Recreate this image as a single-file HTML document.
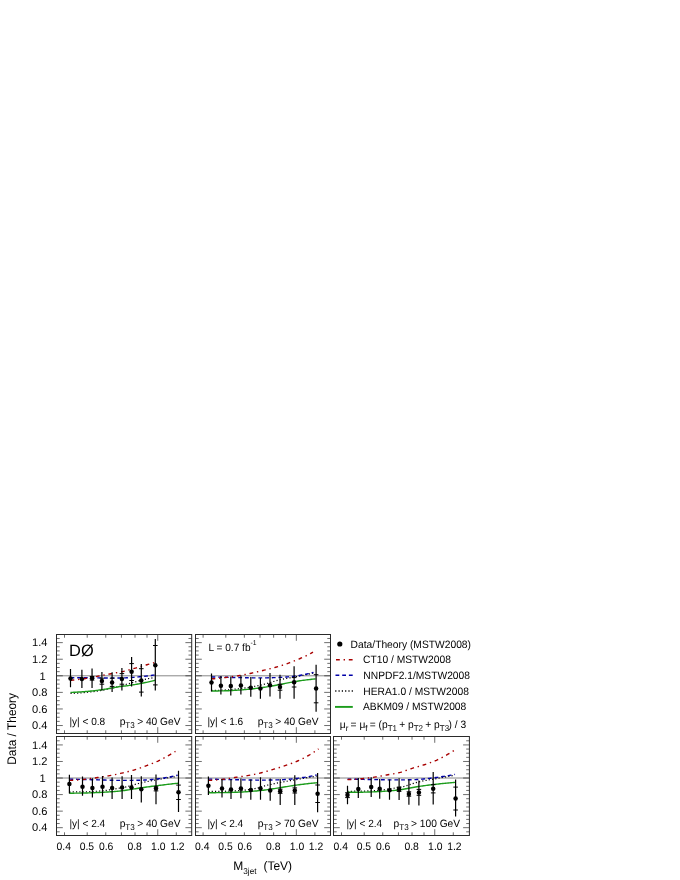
<!DOCTYPE html>
<html><head><meta charset="utf-8"><title>Data / Theory</title>
<style>html,body{margin:0;padding:0;background:#fff;}body{width:680px;height:880px;overflow:hidden;font-family:"Liberation Sans",sans-serif;}svg{display:block;transform:translateZ(0);will-change:transform;}</style></head>
<body>
<svg width="680" height="880" viewBox="0 0 680 880" font-family="Liberation Sans, sans-serif" fill="#000" text-rendering="geometricPrecision">
<rect width="680" height="880" fill="#fff"/>
<g>
<line x1="56.5" y1="675.80" x2="191.7" y2="675.80" stroke="#3c3c3c" stroke-width="0.62"/>
<path d="M56.5 729.68h3.2M191.7 729.68h-3.2M56.5 725.54h6.3M191.7 725.54h-6.3M56.5 721.39h3.2M191.7 721.39h-3.2M56.5 717.25h3.2M191.7 717.25h-3.2M56.5 713.11h3.2M191.7 713.11h-3.2M56.5 708.96h6.3M191.7 708.96h-6.3M56.5 704.81h3.2M191.7 704.81h-3.2M56.5 700.67h3.2M191.7 700.67h-3.2M56.5 696.52h3.2M191.7 696.52h-3.2M56.5 692.38h6.3M191.7 692.38h-6.3M56.5 688.23h3.2M191.7 688.23h-3.2M56.5 684.09h3.2M191.7 684.09h-3.2M56.5 679.94h3.2M191.7 679.94h-3.2M56.5 675.80h6.3M191.7 675.80h-6.3M56.5 671.65h3.2M191.7 671.65h-3.2M56.5 667.51h3.2M191.7 667.51h-3.2M56.5 663.36h3.2M191.7 663.36h-3.2M56.5 659.22h6.3M191.7 659.22h-6.3M56.5 655.07h3.2M191.7 655.07h-3.2M56.5 650.93h3.2M191.7 650.93h-3.2M56.5 646.78h3.2M191.7 646.78h-3.2M56.5 642.64h6.3M191.7 642.64h-6.3M56.5 638.49h3.2M191.7 638.49h-3.2M64.50 733.5v-3.2M64.50 634.5v3.2M87.21 733.5v-3.2M87.21 634.5v3.2M105.76 733.5v-3.2M105.76 634.5v3.2M121.44 733.5v-3.2M121.44 634.5v3.2M135.03 733.5v-3.2M135.03 634.5v3.2M147.02 733.5v-3.2M147.02 634.5v3.2M157.74 733.5v-6.3M157.74 634.5v6.3M176.29 733.5v-3.2" stroke="#141414" stroke-width="0.62" fill="none"/>
<polyline points="70.50,693.40 71.56,693.37 72.63,693.33 73.69,693.28 74.75,693.23 75.82,693.17 76.88,693.11 77.94,693.04 79.01,692.96 80.07,692.89 81.13,692.80 82.20,692.72 83.26,692.63 84.32,692.53 85.39,692.44 86.45,692.34 87.51,692.24 88.58,692.14 89.64,692.04 90.70,691.93 91.77,691.81 92.83,691.68 93.89,691.55 94.96,691.40 96.02,691.25 97.08,691.09 98.15,690.92 99.21,690.75 100.27,690.57 101.34,690.40 102.40,690.21 103.46,690.02 104.53,689.82 105.59,689.61 106.65,689.39 107.72,689.17 108.78,688.93 109.84,688.70 110.91,688.45 111.97,688.21 113.03,687.96 114.09,687.69 115.16,687.42 116.22,687.14 117.28,686.86 118.35,686.57 119.41,686.28 120.47,685.98 121.54,685.68 122.60,685.39 123.66,685.09 124.73,684.80 125.79,684.51 126.85,684.22 127.92,683.93 128.98,683.64 130.04,683.34 131.11,683.04 132.17,682.74 133.23,682.43 134.30,682.13 135.36,681.83 136.42,681.53 137.49,681.24 138.55,680.95 139.61,680.66 140.68,680.39 141.74,680.12 142.80,679.86 143.87,679.61 144.93,679.37 145.99,679.14 147.06,678.92 148.12,678.71 149.18,678.51 150.25,678.31 151.31,678.12 152.37,677.94 153.44,677.77 154.50,677.60" fill="none" stroke="#000" stroke-width="1.25" stroke-dasharray="1.15 2.15"/>
<polyline points="70.50,692.40 71.57,692.37 72.64,692.33 73.71,692.28 74.78,692.24 75.85,692.18 76.92,692.13 77.99,692.07 79.06,692.00 80.13,691.94 81.20,691.87 82.27,691.79 83.34,691.72 84.41,691.64 85.47,691.56 86.54,691.48 87.61,691.39 88.68,691.29 89.75,691.18 90.82,691.07 91.89,690.96 92.96,690.84 94.03,690.71 95.10,690.58 96.17,690.45 97.24,690.32 98.31,690.18 99.38,690.04 100.45,689.90 101.52,689.75 102.59,689.60 103.66,689.44 104.73,689.27 105.80,689.09 106.87,688.91 107.94,688.71 109.01,688.51 110.08,688.31 111.15,688.11 112.22,687.91 113.28,687.71 114.35,687.51 115.42,687.32 116.49,687.14 117.56,686.96 118.63,686.79 119.70,686.64 120.77,686.50 121.84,686.38 122.91,686.26 123.98,686.15 125.05,686.02 126.12,685.88 127.19,685.73 128.26,685.58 129.33,685.42 130.40,685.26 131.47,685.10 132.54,684.93 133.61,684.75 134.68,684.57 135.75,684.39 136.82,684.21 137.89,684.01 138.96,683.82 140.03,683.62 141.09,683.41 142.16,683.21 143.23,682.99 144.30,682.77 145.37,682.55 146.44,682.32 147.51,682.09 148.58,681.85 149.65,681.60 150.72,681.35 151.79,681.10 152.86,680.84 153.93,680.57 155.00,680.30" fill="none" stroke="#1c9c1c" stroke-width="1.4"/>
<polyline points="70.50,677.70 71.56,677.71 72.63,677.72 73.69,677.72 74.75,677.73 75.82,677.74 76.88,677.75 77.94,677.76 79.01,677.76 80.07,677.77 81.13,677.78 82.20,677.79 83.26,677.79 84.32,677.80 85.39,677.81 86.45,677.82 87.51,677.82 88.58,677.83 89.64,677.84 90.70,677.84 91.77,677.85 92.83,677.86 93.89,677.86 94.96,677.87 96.02,677.88 97.08,677.88 98.15,677.89 99.21,677.90 100.27,677.90 101.34,677.91 102.40,677.91 103.46,677.92 104.53,677.93 105.59,677.94 106.65,677.94 107.72,677.95 108.78,677.96 109.84,677.96 110.91,677.97 111.97,677.98 113.03,677.98 114.09,677.99 115.16,677.99 116.22,677.99 117.28,678.00 118.35,678.00 119.41,678.00 120.47,678.00 121.54,677.99 122.60,677.97 123.66,677.94 124.73,677.90 125.79,677.85 126.85,677.79 127.92,677.73 128.98,677.66 130.04,677.59 131.11,677.51 132.17,677.42 133.23,677.34 134.30,677.25 135.36,677.16 136.42,677.06 137.49,676.97 138.55,676.88 139.61,676.78 140.68,676.69 141.74,676.60 142.80,676.50 143.87,676.39 144.93,676.27 145.99,676.15 147.06,676.02 148.12,675.88 149.18,675.75 150.25,675.60 151.31,675.46 152.37,675.31 153.44,675.15 154.50,675.00" fill="none" stroke="#0000a8" stroke-width="1.4" stroke-dasharray="3.8 2.9"/>
<polyline points="70.50,680.30 71.56,680.21 72.63,680.11 73.69,680.00 74.75,679.89 75.82,679.78 76.88,679.66 77.94,679.53 79.01,679.40 80.07,679.27 81.13,679.13 82.20,678.99 83.26,678.85 84.32,678.70 85.39,678.54 86.45,678.38 87.51,678.21 88.58,678.02 89.64,677.83 90.70,677.64 91.77,677.43 92.83,677.22 93.89,677.01 94.96,676.79 96.02,676.58 97.08,676.36 98.15,676.15 99.21,675.94 100.27,675.73 101.34,675.52 102.40,675.33 103.46,675.13 104.53,674.94 105.59,674.74 106.65,674.55 107.72,674.36 108.78,674.17 109.84,673.98 110.91,673.79 111.97,673.59 113.03,673.40 114.09,673.20 115.16,673.00 116.22,672.80 117.28,672.61 118.35,672.41 119.41,672.21 120.47,672.01 121.54,671.79 122.60,671.57 123.66,671.33 124.73,671.07 125.79,670.80 126.85,670.52 127.92,670.23 128.98,669.94 130.04,669.64 131.11,669.34 132.17,669.03 133.23,668.73 134.30,668.43 135.36,668.13 136.42,667.83 137.49,667.52 138.55,667.21 139.61,666.90 140.68,666.59 141.74,666.28 142.80,665.97 143.87,665.65 144.93,665.34 145.99,665.03 147.06,664.73 148.12,664.42 149.18,664.12 150.25,663.81 151.31,663.51 152.37,663.20 153.44,662.90 154.50,662.60" fill="none" stroke="#a80000" stroke-width="1.4" stroke-dasharray="3.8 3.8 1.4 3.8"/>
<path d="M70.5 669.1V687.3M81.9 669.8V688.0M92.05 668.4V688.0M101.9 672.0V690.6M112.1 672.2V692.1M121.9 668.1V690.6M131.6 657.1V686.4M141.3 664.0V696.5M155.3 639.1V690.6" stroke="#000" stroke-width="1.2" fill="none"/>
<path d="M89.75 676.5h4.6M89.75 680.1h4.6M99.60 678.2h4.6M99.60 684.2h4.6M109.80 678.2h4.6M109.80 686.4h4.6M119.60 673.6h4.6M119.60 684.2h4.6M129.30 663.6h4.6M129.30 680.5h4.6M139.00 668.7h4.6M139.00 692.1h4.6M153.00 645.5h4.6M153.00 684.9h4.6" stroke="#000" stroke-width="1.0" fill="none"/>
<circle cx="70.5" cy="678.4" r="2.25"/><circle cx="81.9" cy="679.0" r="2.25"/><circle cx="92.05" cy="678.3" r="2.25"/><circle cx="101.9" cy="681.1" r="2.25"/><circle cx="112.1" cy="682.5" r="2.25"/><circle cx="121.9" cy="679.0" r="2.25"/><circle cx="131.6" cy="671.8" r="2.25"/><circle cx="141.3" cy="680.5" r="2.25"/><circle cx="155.3" cy="665.3" r="2.25"/>
<rect x="56.5" y="634.5" width="135.20" height="99.00" fill="none" stroke="#2a2a2a" stroke-width="1"/>
<text transform="translate(69.40 725.30) scale(1 1.045)" font-size="10.1">|y| &lt; 0.8</text>
<text transform="translate(119.70 725.30) scale(1 1.045)" font-size="10.2">p<tspan font-size="8.1" dy="2.6">T3</tspan><tspan dy="-2.6" dx="-0.5"> &gt; 40 GeV</tspan></text>
</g>
<g>
<line x1="195.5" y1="675.80" x2="330.5" y2="675.80" stroke="#3c3c3c" stroke-width="0.62"/>
<path d="M195.5 729.68h3.2M330.5 729.68h-3.2M195.5 725.54h6.3M330.5 725.54h-6.3M195.5 721.39h3.2M330.5 721.39h-3.2M195.5 717.25h3.2M330.5 717.25h-3.2M195.5 713.11h3.2M330.5 713.11h-3.2M195.5 708.96h6.3M330.5 708.96h-6.3M195.5 704.81h3.2M330.5 704.81h-3.2M195.5 700.67h3.2M330.5 700.67h-3.2M195.5 696.52h3.2M330.5 696.52h-3.2M195.5 692.38h6.3M330.5 692.38h-6.3M195.5 688.23h3.2M330.5 688.23h-3.2M195.5 684.09h3.2M330.5 684.09h-3.2M195.5 679.94h3.2M330.5 679.94h-3.2M195.5 675.80h6.3M330.5 675.80h-6.3M195.5 671.65h3.2M330.5 671.65h-3.2M195.5 667.51h3.2M330.5 667.51h-3.2M195.5 663.36h3.2M330.5 663.36h-3.2M195.5 659.22h6.3M330.5 659.22h-6.3M195.5 655.07h3.2M330.5 655.07h-3.2M195.5 650.93h3.2M330.5 650.93h-3.2M195.5 646.78h3.2M330.5 646.78h-3.2M195.5 642.64h6.3M330.5 642.64h-6.3M195.5 638.49h3.2M330.5 638.49h-3.2M203.10 733.5v-3.2M203.10 634.5v3.2M225.81 733.5v-3.2M225.81 634.5v3.2M244.36 733.5v-3.2M244.36 634.5v3.2M260.04 733.5v-3.2M260.04 634.5v3.2M273.63 733.5v-3.2M273.63 634.5v3.2M285.62 733.5v-3.2M285.62 634.5v3.2M296.34 733.5v-6.3M296.34 634.5v6.3M314.89 733.5v-3.2" stroke="#141414" stroke-width="0.62" fill="none"/>
<polyline points="211.50,690.50 212.79,690.48 214.08,690.46 215.37,690.42 216.66,690.38 217.96,690.33 219.25,690.28 220.54,690.22 221.83,690.16 223.12,690.10 224.41,690.03 225.70,689.96 226.99,689.88 228.28,689.79 229.58,689.69 230.87,689.58 232.16,689.46 233.45,689.33 234.74,689.20 236.03,689.06 237.32,688.92 238.61,688.77 239.91,688.62 241.20,688.46 242.49,688.30 243.78,688.13 245.07,687.95 246.36,687.76 247.65,687.57 248.94,687.36 250.23,687.15 251.53,686.93 252.82,686.70 254.11,686.46 255.40,686.22 256.69,685.97 257.98,685.71 259.27,685.45 260.56,685.18 261.85,684.88 263.15,684.56 264.44,684.22 265.73,683.85 267.02,683.48 268.31,683.09 269.60,682.70 270.89,682.30 272.18,681.90 273.47,681.51 274.77,681.13 276.06,680.75 277.35,680.40 278.64,680.06 279.93,679.75 281.22,679.47 282.51,679.20 283.80,678.95 285.09,678.70 286.39,678.47 287.68,678.24 288.97,678.02 290.26,677.79 291.55,677.56 292.84,677.32 294.13,677.07 295.42,676.82 296.72,676.57 298.01,676.31 299.30,676.05 300.59,675.79 301.88,675.53 303.17,675.27 304.46,675.01 305.75,674.74 307.04,674.47 308.34,674.20 309.63,673.93 310.92,673.65 312.21,673.38 313.50,673.10" fill="none" stroke="#000" stroke-width="1.25" stroke-dasharray="1.15 2.15"/>
<polyline points="211.50,691.00 212.82,691.00 214.14,690.99 215.45,690.98 216.77,690.96 218.09,690.94 219.41,690.92 220.72,690.89 222.04,690.87 223.36,690.84 224.68,690.81 225.99,690.77 227.31,690.73 228.63,690.68 229.95,690.63 231.27,690.56 232.58,690.49 233.90,690.42 235.22,690.34 236.54,690.25 237.85,690.17 239.17,690.08 240.49,689.99 241.81,689.89 243.13,689.78 244.44,689.67 245.76,689.55 247.08,689.42 248.40,689.29 249.71,689.15 251.03,689.00 252.35,688.85 253.67,688.70 254.98,688.54 256.30,688.37 257.62,688.21 258.94,688.04 260.26,687.87 261.57,687.69 262.89,687.50 264.21,687.30 265.53,687.09 266.84,686.87 268.16,686.65 269.48,686.43 270.80,686.19 272.12,685.96 273.43,685.72 274.75,685.47 276.07,685.23 277.39,684.98 278.70,684.74 280.02,684.50 281.34,684.24 282.66,683.98 283.97,683.70 285.29,683.42 286.61,683.14 287.93,682.86 289.25,682.58 290.56,682.32 291.88,682.07 293.20,681.83 294.52,681.62 295.83,681.41 297.15,681.21 298.47,681.00 299.79,680.81 301.11,680.62 302.42,680.43 303.74,680.25 305.06,680.07 306.38,679.90 307.69,679.73 309.01,679.58 310.33,679.43 311.65,679.28 312.96,679.15 314.28,679.02 315.60,678.90" fill="none" stroke="#1c9c1c" stroke-width="1.4"/>
<polyline points="211.50,676.90 212.79,676.94 214.08,676.98 215.37,677.01 216.66,677.05 217.96,677.09 219.25,677.12 220.54,677.16 221.83,677.19 223.12,677.23 224.41,677.26 225.70,677.29 226.99,677.32 228.28,677.36 229.58,677.39 230.87,677.41 232.16,677.44 233.45,677.47 234.74,677.50 236.03,677.52 237.32,677.55 238.61,677.57 239.91,677.60 241.20,677.62 242.49,677.65 243.78,677.67 245.07,677.70 246.36,677.72 247.65,677.75 248.94,677.77 250.23,677.80 251.53,677.82 252.82,677.84 254.11,677.85 255.40,677.87 256.69,677.88 257.98,677.89 259.27,677.90 260.56,677.90 261.85,677.90 263.15,677.89 264.44,677.87 265.73,677.85 267.02,677.83 268.31,677.80 269.60,677.77 270.89,677.73 272.18,677.69 273.47,677.65 274.77,677.60 276.06,677.56 277.35,677.51 278.64,677.46 279.93,677.40 281.22,677.34 282.51,677.27 283.80,677.19 285.09,677.09 286.39,676.98 287.68,676.87 288.97,676.74 290.26,676.61 291.55,676.47 292.84,676.33 294.13,676.18 295.42,676.03 296.72,675.85 298.01,675.65 299.30,675.44 300.59,675.22 301.88,674.99 303.17,674.75 304.46,674.50 305.75,674.25 307.04,673.98 308.34,673.69 309.63,673.39 310.92,673.07 312.21,672.74 313.50,672.40" fill="none" stroke="#0000a8" stroke-width="1.4" stroke-dasharray="3.8 2.9"/>
<polyline points="211.50,678.90 212.78,678.80 214.07,678.70 215.35,678.59 216.64,678.47 217.92,678.35 219.21,678.22 220.49,678.09 221.78,677.96 223.06,677.82 224.35,677.67 225.63,677.53 226.92,677.37 228.20,677.21 229.49,677.04 230.77,676.87 232.06,676.69 233.34,676.50 234.63,676.31 235.91,676.11 237.20,675.91 238.48,675.70 239.77,675.49 241.05,675.27 242.34,675.04 243.62,674.80 244.91,674.55 246.19,674.29 247.47,674.03 248.76,673.76 250.04,673.49 251.33,673.21 252.61,672.93 253.90,672.64 255.18,672.34 256.47,672.04 257.75,671.73 259.04,671.42 260.32,671.11 261.61,670.80 262.89,670.48 264.18,670.17 265.46,669.85 266.75,669.54 268.03,669.22 269.32,668.91 270.60,668.58 271.89,668.26 273.17,667.92 274.46,667.58 275.74,667.23 277.03,666.87 278.31,666.50 279.59,666.12 280.88,665.73 282.16,665.32 283.45,664.89 284.73,664.45 286.02,664.00 287.30,663.54 288.59,663.07 289.87,662.59 291.16,662.10 292.44,661.60 293.73,661.10 295.01,660.60 296.30,660.08 297.58,659.56 298.87,659.03 300.15,658.49 301.44,657.93 302.72,657.35 304.01,656.77 305.29,656.16 306.58,655.53 307.86,654.89 309.15,654.22 310.43,653.53 311.72,652.82 313.00,652.10" fill="none" stroke="#a80000" stroke-width="1.4" stroke-dasharray="3.8 3.8 1.4 3.8"/>
<path d="M211.5 673.5V691.5M220.9 676.1V694.6M230.8 676.6V695.4M240.9 675.4V694.6M250.8 677.1V696.7M260.4 677.9V698.8M270.0 673.1V696.6M280.0 674.8V698.7M294.1 666.3V698.7M316.1 664.7V711.8" stroke="#000" stroke-width="1.2" fill="none"/>
<path d="M277.70 684.3h4.6M277.70 690.2h4.6M291.80 677.6h4.6M291.80 687.0h4.6M313.80 674.7h4.6M313.80 702.8h4.6" stroke="#000" stroke-width="1.0" fill="none"/>
<circle cx="211.5" cy="682.5" r="2.25"/><circle cx="220.9" cy="685.7" r="2.25"/><circle cx="230.8" cy="685.9" r="2.25"/><circle cx="240.9" cy="685.5" r="2.25"/><circle cx="250.8" cy="687.7" r="2.25"/><circle cx="260.4" cy="688.5" r="2.25"/><circle cx="270.0" cy="685.3" r="2.25"/><circle cx="280.0" cy="687.1" r="2.25"/><circle cx="294.1" cy="682.2" r="2.25"/><circle cx="316.1" cy="688.4" r="2.25"/>
<rect x="195.5" y="634.5" width="135.00" height="99.00" fill="none" stroke="#2a2a2a" stroke-width="1"/>
<text transform="translate(207.40 725.30) scale(1 1.045)" font-size="10.1">|y| &lt; 1.6</text>
<text transform="translate(257.70 725.30) scale(1 1.045)" font-size="10.2">p<tspan font-size="8.1" dy="2.6">T3</tspan><tspan dy="-2.6" dx="-0.5"> &gt; 40 GeV</tspan></text>
</g>
<g>
<line x1="56.5" y1="778.03" x2="191.7" y2="778.03" stroke="#3c3c3c" stroke-width="0.62"/>
<path d="M56.5 831.82h3.2M191.7 831.82h-3.2M56.5 827.68h6.3M191.7 827.68h-6.3M56.5 823.54h3.2M191.7 823.54h-3.2M56.5 819.40h3.2M191.7 819.40h-3.2M56.5 815.27h3.2M191.7 815.27h-3.2M56.5 811.13h6.3M191.7 811.13h-6.3M56.5 806.99h3.2M191.7 806.99h-3.2M56.5 802.86h3.2M191.7 802.86h-3.2M56.5 798.72h3.2M191.7 798.72h-3.2M56.5 794.58h6.3M191.7 794.58h-6.3M56.5 790.44h3.2M191.7 790.44h-3.2M56.5 786.30h3.2M191.7 786.30h-3.2M56.5 782.17h3.2M191.7 782.17h-3.2M56.5 778.03h6.3M191.7 778.03h-6.3M56.5 773.89h3.2M191.7 773.89h-3.2M56.5 769.75h3.2M191.7 769.75h-3.2M56.5 765.62h3.2M191.7 765.62h-3.2M56.5 761.48h6.3M191.7 761.48h-6.3M56.5 757.34h3.2M191.7 757.34h-3.2M56.5 753.20h3.2M191.7 753.20h-3.2M56.5 749.07h3.2M191.7 749.07h-3.2M56.5 744.93h6.3M191.7 744.93h-6.3M56.5 740.79h3.2M191.7 740.79h-3.2M64.50 835.5v-3.2M64.50 736.5v3.2M87.21 835.5v-3.2M87.21 736.5v3.2M105.76 835.5v-3.2M105.76 736.5v3.2M121.44 835.5v-3.2M121.44 736.5v3.2M135.03 835.5v-3.2M135.03 736.5v3.2M147.02 835.5v-3.2M147.02 736.5v3.2M157.74 835.5v-6.3M157.74 736.5v6.3M176.29 835.5v-3.2" stroke="#141414" stroke-width="0.62" fill="none"/>
<polyline points="69.40,792.00 70.76,792.00 72.11,791.99 73.47,791.98 74.83,791.97 76.18,791.95 77.54,791.94 78.90,791.91 80.26,791.89 81.61,791.87 82.97,791.84 84.33,791.81 85.68,791.78 87.04,791.75 88.40,791.70 89.75,791.64 91.11,791.58 92.47,791.51 93.83,791.43 95.18,791.34 96.54,791.25 97.90,791.15 99.25,791.05 100.61,790.94 101.97,790.83 103.32,790.70 104.68,790.55 106.04,790.38 107.39,790.19 108.75,789.98 110.11,789.75 111.47,789.52 112.82,789.28 114.18,789.03 115.54,788.79 116.89,788.55 118.25,788.32 119.61,788.10 120.96,787.86 122.32,787.62 123.68,787.37 125.04,787.09 126.39,786.79 127.75,786.46 129.11,786.11 130.46,785.74 131.82,785.36 133.18,784.98 134.53,784.59 135.89,784.21 137.25,783.84 138.61,783.48 139.96,783.15 141.32,782.84 142.68,782.54 144.03,782.24 145.39,781.96 146.75,781.68 148.10,781.40 149.46,781.13 150.82,780.87 152.17,780.61 153.53,780.35 154.89,780.10 156.25,779.86 157.60,779.61 158.96,779.37 160.32,779.13 161.67,778.89 163.03,778.65 164.39,778.42 165.74,778.19 167.10,777.97 168.46,777.75 169.82,777.53 171.17,777.32 172.53,777.11 173.89,776.90 175.24,776.70 176.60,776.50" fill="none" stroke="#000" stroke-width="1.25" stroke-dasharray="1.15 2.15"/>
<polyline points="69.40,793.20 70.78,793.20 72.15,793.19 73.53,793.18 74.91,793.17 76.29,793.15 77.66,793.13 79.04,793.11 80.42,793.09 81.79,793.06 83.17,793.04 84.55,793.01 85.93,792.98 87.30,792.95 88.68,792.91 90.06,792.86 91.44,792.81 92.81,792.76 94.19,792.70 95.57,792.64 96.94,792.57 98.32,792.50 99.70,792.43 101.08,792.36 102.45,792.29 103.83,792.22 105.21,792.14 106.58,792.06 107.96,791.97 109.34,791.88 110.72,791.78 112.09,791.68 113.47,791.58 114.85,791.46 116.23,791.35 117.60,791.23 118.98,791.10 120.36,790.96 121.73,790.81 123.11,790.65 124.49,790.46 125.87,790.27 127.24,790.06 128.62,789.84 130.00,789.62 131.37,789.39 132.75,789.16 134.13,788.92 135.51,788.69 136.88,788.47 138.26,788.25 139.64,788.04 141.02,787.84 142.39,787.64 143.77,787.45 145.15,787.26 146.52,787.06 147.90,786.87 149.28,786.69 150.66,786.50 152.03,786.31 153.41,786.13 154.79,785.95 156.16,785.78 157.54,785.61 158.92,785.43 160.30,785.26 161.67,785.09 163.05,784.93 164.43,784.76 165.81,784.60 167.18,784.43 168.56,784.27 169.94,784.11 171.31,783.96 172.69,783.80 174.07,783.65 175.45,783.50 176.82,783.35 178.20,783.20" fill="none" stroke="#1c9c1c" stroke-width="1.4"/>
<polyline points="69.40,779.10 70.77,779.14 72.14,779.18 73.51,779.21 74.88,779.25 76.25,779.29 77.62,779.33 78.99,779.36 80.36,779.40 81.73,779.44 83.10,779.47 84.47,779.51 85.84,779.54 87.21,779.58 88.57,779.62 89.94,779.65 91.31,779.68 92.68,779.72 94.05,779.75 95.42,779.79 96.79,779.82 98.16,779.86 99.53,779.89 100.90,779.92 102.27,779.96 103.64,780.00 105.01,780.04 106.38,780.08 107.75,780.12 109.12,780.16 110.49,780.20 111.86,780.24 113.23,780.28 114.60,780.31 115.97,780.34 117.34,780.36 118.71,780.38 120.08,780.39 121.45,780.40 122.82,780.40 124.18,780.40 125.55,780.39 126.92,780.38 128.29,780.37 129.66,780.36 131.03,780.34 132.40,780.33 133.77,780.31 135.14,780.29 136.51,780.26 137.88,780.24 139.25,780.21 140.62,780.19 141.99,780.14 143.36,780.09 144.73,780.02 146.10,779.94 147.47,779.85 148.84,779.76 150.21,779.66 151.58,779.55 152.95,779.43 154.32,779.29 155.69,779.14 157.06,778.97 158.43,778.79 159.79,778.60 161.16,778.40 162.53,778.19 163.90,777.97 165.27,777.76 166.64,777.53 168.01,777.28 169.38,777.02 170.75,776.75 172.12,776.46 173.49,776.16 174.86,775.85 176.23,775.53 177.60,775.20" fill="none" stroke="#0000a8" stroke-width="1.4" stroke-dasharray="3.8 2.9"/>
<polyline points="69.40,780.40 70.74,780.35 72.09,780.29 73.43,780.22 74.77,780.14 76.12,780.05 77.46,779.95 78.80,779.85 80.14,779.74 81.49,779.62 82.83,779.50 84.17,779.38 85.52,779.25 86.86,779.10 88.20,778.94 89.55,778.75 90.89,778.56 92.23,778.36 93.57,778.15 94.92,777.95 96.26,777.74 97.60,777.54 98.95,777.34 100.29,777.15 101.63,776.95 102.98,776.75 104.32,776.54 105.66,776.33 107.01,776.11 108.35,775.89 109.69,775.66 111.03,775.41 112.38,775.15 113.72,774.89 115.06,774.61 116.41,774.33 117.75,774.03 119.09,773.74 120.44,773.43 121.78,773.13 123.12,772.82 124.46,772.51 125.81,772.19 127.15,771.86 128.49,771.53 129.84,771.18 131.18,770.83 132.52,770.45 133.87,770.06 135.21,769.65 136.55,769.21 137.89,768.75 139.24,768.28 140.58,767.80 141.92,767.30 143.27,766.81 144.61,766.31 145.95,765.81 147.30,765.31 148.64,764.81 149.98,764.31 151.33,763.80 152.67,763.28 154.01,762.75 155.35,762.19 156.70,761.62 158.04,761.03 159.38,760.40 160.73,759.74 162.07,759.05 163.41,758.33 164.76,757.60 166.10,756.86 167.44,756.10 168.78,755.35 170.13,754.59 171.47,753.81 172.81,753.02 174.16,752.22 175.50,751.40" fill="none" stroke="#a80000" stroke-width="1.4" stroke-dasharray="3.8 3.8 1.4 3.8"/>
<path d="M69.4 774.8V793.5M82.5 776.5V795.8M92.4 778.3V797.4M102.5 776.0V796.6M112.1 777.6V798.9M122.1 776.2V798.9M131.5 775.0V798.9M141.3 776.2V802.6M156.0 774.5V804.3M178.5 770.7V811.9" stroke="#000" stroke-width="1.2" fill="none"/>
<path d="M153.70 786.8h4.6M153.70 790.9h4.6M176.20 785.1h4.6M176.20 799.5h4.6" stroke="#000" stroke-width="1.0" fill="none"/>
<circle cx="69.4" cy="784.1" r="2.25"/><circle cx="82.5" cy="786.8" r="2.25"/><circle cx="92.4" cy="788.1" r="2.25"/><circle cx="102.5" cy="786.8" r="2.25"/><circle cx="112.1" cy="788.1" r="2.25"/><circle cx="122.1" cy="787.6" r="2.25"/><circle cx="131.5" cy="787.6" r="2.25"/><circle cx="141.3" cy="789.2" r="2.25"/><circle cx="156.0" cy="788.4" r="2.25"/><circle cx="178.5" cy="792.2" r="2.25"/>
<rect x="56.5" y="736.5" width="135.20" height="99.00" fill="none" stroke="#2a2a2a" stroke-width="1"/>
<text transform="translate(69.40 827.30) scale(1 1.045)" font-size="10.1">|y| &lt; 2.4</text>
<text transform="translate(119.70 827.30) scale(1 1.045)" font-size="10.2">p<tspan font-size="8.1" dy="2.6">T3</tspan><tspan dy="-2.6" dx="-0.5"> &gt; 40 GeV</tspan></text>
</g>
<g>
<line x1="195.5" y1="778.03" x2="330.5" y2="778.03" stroke="#3c3c3c" stroke-width="0.62"/>
<path d="M195.5 831.82h3.2M330.5 831.82h-3.2M195.5 827.68h6.3M330.5 827.68h-6.3M195.5 823.54h3.2M330.5 823.54h-3.2M195.5 819.40h3.2M330.5 819.40h-3.2M195.5 815.27h3.2M330.5 815.27h-3.2M195.5 811.13h6.3M330.5 811.13h-6.3M195.5 806.99h3.2M330.5 806.99h-3.2M195.5 802.86h3.2M330.5 802.86h-3.2M195.5 798.72h3.2M330.5 798.72h-3.2M195.5 794.58h6.3M330.5 794.58h-6.3M195.5 790.44h3.2M330.5 790.44h-3.2M195.5 786.30h3.2M330.5 786.30h-3.2M195.5 782.17h3.2M330.5 782.17h-3.2M195.5 778.03h6.3M330.5 778.03h-6.3M195.5 773.89h3.2M330.5 773.89h-3.2M195.5 769.75h3.2M330.5 769.75h-3.2M195.5 765.62h3.2M330.5 765.62h-3.2M195.5 761.48h6.3M330.5 761.48h-6.3M195.5 757.34h3.2M330.5 757.34h-3.2M195.5 753.20h3.2M330.5 753.20h-3.2M195.5 749.07h3.2M330.5 749.07h-3.2M195.5 744.93h6.3M330.5 744.93h-6.3M195.5 740.79h3.2M330.5 740.79h-3.2M203.10 835.5v-3.2M203.10 736.5v3.2M225.81 835.5v-3.2M225.81 736.5v3.2M244.36 835.5v-3.2M244.36 736.5v3.2M260.04 835.5v-3.2M260.04 736.5v3.2M273.63 835.5v-3.2M273.63 736.5v3.2M285.62 835.5v-3.2M285.62 736.5v3.2M296.34 835.5v-6.3M296.34 736.5v6.3M314.89 835.5v-3.2" stroke="#141414" stroke-width="0.62" fill="none"/>
<polyline points="208.40,791.50 209.77,791.50 211.14,791.49 212.51,791.48 213.88,791.47 215.25,791.45 216.62,791.43 217.99,791.41 219.36,791.39 220.73,791.36 222.10,791.34 223.47,791.31 224.84,791.28 226.21,791.24 227.57,791.20 228.94,791.15 230.31,791.09 231.68,791.02 233.05,790.95 234.42,790.87 235.79,790.79 237.16,790.70 238.53,790.60 239.90,790.51 241.27,790.40 242.64,790.29 244.01,790.16 245.38,790.01 246.75,789.85 248.12,789.68 249.49,789.48 250.86,789.28 252.23,789.05 253.60,788.82 254.97,788.56 256.34,788.29 257.71,787.98 259.08,787.57 260.45,787.11 261.82,786.65 263.18,786.25 264.55,785.90 265.92,785.56 267.29,785.23 268.66,784.91 270.03,784.60 271.40,784.29 272.77,784.00 274.14,783.71 275.51,783.43 276.88,783.15 278.25,782.87 279.62,782.60 280.99,782.32 282.36,782.05 283.73,781.79 285.10,781.53 286.47,781.28 287.84,781.03 289.21,780.79 290.58,780.55 291.95,780.30 293.32,780.07 294.69,779.83 296.06,779.59 297.43,779.35 298.79,779.12 300.16,778.88 301.53,778.65 302.90,778.42 304.27,778.19 305.64,777.96 307.01,777.74 308.38,777.51 309.75,777.29 311.12,777.07 312.49,776.85 313.86,776.63 315.23,776.41 316.60,776.20" fill="none" stroke="#000" stroke-width="1.25" stroke-dasharray="1.15 2.15"/>
<polyline points="208.40,792.70 209.78,792.70 211.15,792.70 212.53,792.69 213.90,792.68 215.28,792.68 216.66,792.67 218.03,792.66 219.41,792.65 220.78,792.63 222.16,792.62 223.54,792.60 224.91,792.59 226.29,792.57 227.66,792.54 229.04,792.50 230.42,792.46 231.79,792.41 233.17,792.36 234.54,792.30 235.92,792.25 237.29,792.19 238.67,792.12 240.05,792.06 241.42,791.99 242.80,791.93 244.17,791.85 245.55,791.77 246.93,791.68 248.30,791.59 249.68,791.49 251.05,791.39 252.43,791.28 253.81,791.17 255.18,791.05 256.56,790.93 257.93,790.80 259.31,790.67 260.69,790.53 262.06,790.38 263.44,790.22 264.81,790.04 266.19,789.85 267.57,789.65 268.94,789.45 270.32,789.24 271.69,789.02 273.07,788.80 274.45,788.58 275.82,788.36 277.20,788.13 278.57,787.92 279.95,787.70 281.33,787.49 282.70,787.27 284.08,787.04 285.45,786.81 286.83,786.58 288.21,786.35 289.58,786.13 290.96,785.90 292.33,785.69 293.71,785.48 295.08,785.29 296.46,785.10 297.84,784.92 299.21,784.73 300.59,784.56 301.96,784.38 303.34,784.21 304.72,784.04 306.09,783.87 307.47,783.71 308.84,783.55 310.22,783.40 311.60,783.25 312.97,783.10 314.35,782.96 315.72,782.83 317.10,782.70" fill="none" stroke="#1c9c1c" stroke-width="1.4"/>
<polyline points="208.40,779.10 209.77,779.14 211.14,779.17 212.51,779.21 213.88,779.24 215.25,779.28 216.62,779.31 217.99,779.34 219.36,779.38 220.73,779.41 222.10,779.44 223.47,779.47 224.84,779.50 226.21,779.53 227.57,779.56 228.94,779.59 230.31,779.62 231.68,779.65 233.05,779.67 234.42,779.70 235.79,779.72 237.16,779.75 238.53,779.77 239.90,779.80 241.27,779.82 242.64,779.85 244.01,779.87 245.38,779.90 246.75,779.93 248.12,779.95 249.49,779.98 250.86,780.00 252.23,780.02 253.60,780.04 254.97,780.06 256.34,780.08 257.71,780.09 259.08,780.10 260.45,780.10 261.82,780.10 263.18,780.09 264.55,780.09 265.92,780.08 267.29,780.06 268.66,780.04 270.03,780.02 271.40,780.00 272.77,779.97 274.14,779.94 275.51,779.91 276.88,779.88 278.25,779.85 279.62,779.81 280.99,779.77 282.36,779.71 283.73,779.64 285.10,779.56 286.47,779.46 287.84,779.36 289.21,779.25 290.58,779.14 291.95,779.01 293.32,778.87 294.69,778.72 296.06,778.54 297.43,778.36 298.79,778.16 300.16,777.96 301.53,777.75 302.90,777.53 304.27,777.32 305.64,777.10 307.01,776.87 308.38,776.63 309.75,776.38 311.12,776.12 312.49,775.85 313.86,775.57 315.23,775.29 316.60,775.00" fill="none" stroke="#0000a8" stroke-width="1.4" stroke-dasharray="3.8 2.9"/>
<polyline points="208.40,780.40 209.79,780.35 211.19,780.28 212.58,780.20 213.97,780.11 215.37,780.01 216.76,779.89 218.16,779.77 219.55,779.65 220.94,779.51 222.34,779.37 223.73,779.23 225.12,779.07 226.52,778.89 227.91,778.68 229.31,778.46 230.70,778.22 232.09,777.98 233.49,777.74 234.88,777.51 236.27,777.29 237.67,777.08 239.06,776.87 240.45,776.67 241.85,776.47 243.24,776.27 244.64,776.07 246.03,775.85 247.42,775.64 248.82,775.41 250.21,775.16 251.60,774.91 253.00,774.64 254.39,774.36 255.78,774.07 257.18,773.76 258.57,773.45 259.97,773.12 261.36,772.79 262.75,772.43 264.15,772.05 265.54,771.65 266.93,771.24 268.33,770.83 269.72,770.41 271.12,769.98 272.51,769.57 273.90,769.15 275.30,768.74 276.69,768.32 278.08,767.90 279.48,767.48 280.87,767.04 282.26,766.60 283.66,766.15 285.05,765.68 286.45,765.21 287.84,764.73 289.23,764.24 290.63,763.74 292.02,763.23 293.41,762.70 294.81,762.15 296.20,761.58 297.59,760.99 298.99,760.36 300.38,759.71 301.78,759.04 303.17,758.34 304.56,757.61 305.96,756.86 307.35,756.09 308.74,755.30 310.14,754.48 311.53,753.62 312.93,752.74 314.32,751.82 315.71,750.87 317.11,749.90 318.50,748.90" fill="none" stroke="#a80000" stroke-width="1.4" stroke-dasharray="3.8 3.8 1.4 3.8"/>
<path d="M208.4 776.5V795.1M222.0 778.9V797.6M231.0 779.6V798.9M240.9 778.6V798.2M250.8 779.6V799.7M260.5 777.3V799.7M270.2 778.6V800.7M280.2 778.9V804.9M294.8 775.2V805.1M317.6 773.1V812.3" stroke="#000" stroke-width="1.2" fill="none"/>
<path d="M277.90 789.2h4.6M277.90 793.3h4.6M292.50 787.9h4.6M292.50 793.0h4.6M315.30 785.0h4.6M315.30 802.5h4.6" stroke="#000" stroke-width="1.0" fill="none"/>
<circle cx="208.4" cy="785.8" r="2.25"/><circle cx="222.0" cy="788.4" r="2.25"/><circle cx="231.0" cy="789.6" r="2.25"/><circle cx="240.9" cy="788.6" r="2.25"/><circle cx="250.8" cy="790.1" r="2.25"/><circle cx="260.5" cy="788.6" r="2.25"/><circle cx="270.2" cy="790.4" r="2.25"/><circle cx="280.2" cy="791.2" r="2.25"/><circle cx="294.8" cy="790.4" r="2.25"/><circle cx="317.6" cy="793.7" r="2.25"/>
<rect x="195.5" y="736.5" width="135.00" height="99.00" fill="none" stroke="#2a2a2a" stroke-width="1"/>
<text transform="translate(207.40 827.30) scale(1 1.045)" font-size="10.1">|y| &lt; 2.4</text>
<text transform="translate(257.70 827.30) scale(1 1.045)" font-size="10.2">p<tspan font-size="8.1" dy="2.6">T3</tspan><tspan dy="-2.6" dx="-0.5"> &gt; 70 GeV</tspan></text>
</g>
<g>
<line x1="333.5" y1="778.03" x2="469.4" y2="778.03" stroke="#3c3c3c" stroke-width="0.62"/>
<path d="M333.5 831.82h3.2M469.4 831.82h-3.2M333.5 827.68h6.3M469.4 827.68h-6.3M333.5 823.54h3.2M469.4 823.54h-3.2M333.5 819.40h3.2M469.4 819.40h-3.2M333.5 815.27h3.2M469.4 815.27h-3.2M333.5 811.13h6.3M469.4 811.13h-6.3M333.5 806.99h3.2M469.4 806.99h-3.2M333.5 802.86h3.2M469.4 802.86h-3.2M333.5 798.72h3.2M469.4 798.72h-3.2M333.5 794.58h6.3M469.4 794.58h-6.3M333.5 790.44h3.2M469.4 790.44h-3.2M333.5 786.30h3.2M469.4 786.30h-3.2M333.5 782.17h3.2M469.4 782.17h-3.2M333.5 778.03h6.3M469.4 778.03h-6.3M333.5 773.89h3.2M469.4 773.89h-3.2M333.5 769.75h3.2M469.4 769.75h-3.2M333.5 765.62h3.2M469.4 765.62h-3.2M333.5 761.48h6.3M469.4 761.48h-6.3M333.5 757.34h3.2M469.4 757.34h-3.2M333.5 753.20h3.2M469.4 753.20h-3.2M333.5 749.07h3.2M469.4 749.07h-3.2M333.5 744.93h6.3M469.4 744.93h-6.3M333.5 740.79h3.2M469.4 740.79h-3.2M341.50 835.5v-3.2M341.50 736.5v3.2M364.21 835.5v-3.2M364.21 736.5v3.2M382.76 835.5v-3.2M382.76 736.5v3.2M398.44 835.5v-3.2M398.44 736.5v3.2M412.03 835.5v-3.2M412.03 736.5v3.2M424.02 835.5v-3.2M424.02 736.5v3.2M434.74 835.5v-6.3M434.74 736.5v6.3M453.29 835.5v-3.2" stroke="#141414" stroke-width="0.62" fill="none"/>
<polyline points="347.50,791.30 348.85,791.29 350.19,791.28 351.54,791.27 352.88,791.26 354.23,791.24 355.57,791.22 356.92,791.20 358.26,791.17 359.61,791.15 360.96,791.12 362.30,791.09 363.65,791.07 364.99,791.03 366.34,791.00 367.68,790.96 369.03,790.92 370.37,790.87 371.72,790.82 373.07,790.76 374.41,790.70 375.76,790.63 377.10,790.55 378.45,790.44 379.79,790.30 381.14,790.14 382.48,789.96 383.83,789.76 385.18,789.55 386.52,789.33 387.87,789.12 389.21,788.90 390.56,788.69 391.90,788.48 393.25,788.29 394.59,788.10 395.94,787.91 397.29,787.71 398.63,787.50 399.98,787.28 401.32,787.03 402.67,786.76 404.01,786.43 405.36,786.06 406.71,785.65 408.05,785.21 409.40,784.76 410.74,784.29 412.09,783.83 413.43,783.37 414.78,782.93 416.12,782.53 417.47,782.15 418.82,781.83 420.16,781.53 421.51,781.24 422.85,780.97 424.20,780.71 425.54,780.46 426.89,780.22 428.23,779.98 429.58,779.75 430.93,779.52 432.27,779.29 433.62,779.06 434.96,778.82 436.31,778.58 437.65,778.34 439.00,778.10 440.34,777.85 441.69,777.61 443.04,777.37 444.38,777.14 445.73,776.90 447.07,776.66 448.42,776.43 449.76,776.20 451.11,775.96 452.45,775.73 453.80,775.50" fill="none" stroke="#000" stroke-width="1.25" stroke-dasharray="1.15 2.15"/>
<polyline points="347.50,792.30 348.86,792.30 350.22,792.30 351.58,792.29 352.94,792.28 354.30,792.27 355.66,792.26 357.03,792.25 358.39,792.24 359.75,792.23 361.11,792.21 362.47,792.19 363.83,792.17 365.19,792.14 366.55,792.10 367.91,792.06 369.27,792.01 370.63,791.95 371.99,791.89 373.35,791.83 374.72,791.77 376.08,791.71 377.44,791.65 378.80,791.58 380.16,791.51 381.52,791.43 382.88,791.35 384.24,791.26 385.60,791.17 386.96,791.08 388.32,790.97 389.68,790.87 391.04,790.76 392.41,790.64 393.77,790.52 395.13,790.39 396.49,790.24 397.85,790.07 399.21,789.89 400.57,789.68 401.93,789.46 403.29,789.23 404.65,788.98 406.01,788.73 407.37,788.47 408.73,788.22 410.09,787.96 411.46,787.70 412.82,787.45 414.18,787.20 415.54,786.97 416.90,786.74 418.26,786.54 419.62,786.34 420.98,786.14 422.34,785.95 423.70,785.77 425.06,785.58 426.42,785.40 427.78,785.23 429.15,785.06 430.51,784.89 431.87,784.72 433.23,784.57 434.59,784.41 435.95,784.26 437.31,784.11 438.67,783.96 440.03,783.81 441.39,783.67 442.75,783.53 444.11,783.39 445.47,783.26 446.84,783.12 448.20,782.99 449.56,782.87 450.92,782.75 452.28,782.63 453.64,782.51 455.00,782.40" fill="none" stroke="#1c9c1c" stroke-width="1.4"/>
<polyline points="347.50,779.10 348.86,779.13 350.22,779.15 351.58,779.18 352.94,779.21 354.30,779.24 355.66,779.26 357.03,779.29 358.39,779.31 359.75,779.34 361.11,779.36 362.47,779.39 363.83,779.41 365.19,779.44 366.55,779.46 367.91,779.48 369.27,779.51 370.63,779.53 371.99,779.55 373.35,779.57 374.72,779.60 376.08,779.62 377.44,779.64 378.80,779.67 380.16,779.69 381.52,779.72 382.88,779.74 384.24,779.77 385.60,779.79 386.96,779.82 388.32,779.84 389.68,779.86 391.04,779.87 392.41,779.88 393.77,779.89 395.13,779.90 396.49,779.90 397.85,779.90 399.21,779.89 400.57,779.88 401.93,779.87 403.29,779.85 404.65,779.83 406.01,779.81 407.37,779.78 408.73,779.75 410.09,779.72 411.46,779.69 412.82,779.66 414.18,779.62 415.54,779.58 416.90,779.52 418.26,779.44 419.62,779.34 420.98,779.22 422.34,779.09 423.70,778.95 425.06,778.80 426.42,778.64 427.78,778.48 429.15,778.33 430.51,778.18 431.87,778.02 433.23,777.86 434.59,777.69 435.95,777.52 437.31,777.33 438.67,777.14 440.03,776.95 441.39,776.75 442.75,776.55 444.11,776.34 445.47,776.13 446.84,775.90 448.20,775.67 449.56,775.43 450.92,775.18 452.28,774.93 453.64,774.67 455.00,774.40" fill="none" stroke="#0000a8" stroke-width="1.4" stroke-dasharray="3.8 2.9"/>
<polyline points="347.50,779.60 348.85,779.56 350.19,779.51 351.54,779.45 352.89,779.38 354.23,779.30 355.58,779.22 356.93,779.13 358.27,779.03 359.62,778.93 360.97,778.82 362.32,778.70 363.66,778.56 365.01,778.40 366.36,778.24 367.70,778.07 369.05,777.89 370.40,777.71 371.74,777.52 373.09,777.33 374.44,777.12 375.78,776.91 377.13,776.68 378.48,776.45 379.82,776.22 381.17,775.98 382.52,775.73 383.86,775.49 385.21,775.25 386.56,775.01 387.91,774.77 389.25,774.54 390.60,774.32 391.95,774.09 393.29,773.86 394.64,773.61 395.99,773.35 397.33,773.07 398.68,772.78 400.03,772.44 401.37,772.06 402.72,771.64 404.07,771.19 405.41,770.72 406.76,770.23 408.11,769.74 409.45,769.26 410.80,768.79 412.15,768.34 413.49,767.92 414.84,767.52 416.19,767.13 417.54,766.75 418.88,766.36 420.23,765.98 421.58,765.58 422.92,765.17 424.27,764.74 425.62,764.30 426.96,763.85 428.31,763.40 429.66,762.93 431.00,762.45 432.35,761.95 433.70,761.43 435.04,760.89 436.39,760.32 437.74,759.71 439.08,759.08 440.43,758.40 441.78,757.70 443.13,756.98 444.47,756.24 445.82,755.49 447.17,754.73 448.51,753.96 449.86,753.15 451.21,752.32 452.55,751.47 453.90,750.60" fill="none" stroke="#a80000" stroke-width="1.4" stroke-dasharray="3.8 3.8 1.4 3.8"/>
<path d="M347.5 785.8V804.3M358.3 778.1V797.9M371.2 777.3V797.1M379.7 778.9V798.7M389.5 779.6V799.7M399.1 778.2V800.0M408.9 779.4V804.7M418.9 780.6V805.6M433.2 772.0V804.5M455.6 779.4V816.5" stroke="#000" stroke-width="1.2" fill="none"/>
<path d="M345.20 792.7h4.6M345.20 797.6h4.6M396.80 787.1h4.6M396.80 791.4h4.6M406.60 791.8h4.6M406.60 796.2h4.6M416.60 789.4h4.6M416.60 795.3h4.6M430.90 784.7h4.6M430.90 792.9h4.6M453.30 787.1h4.6M453.30 810.0h4.6" stroke="#000" stroke-width="1.0" fill="none"/>
<circle cx="347.5" cy="795.1" r="2.25"/><circle cx="358.3" cy="789.1" r="2.25"/><circle cx="371.2" cy="787.1" r="2.25"/><circle cx="379.7" cy="788.7" r="2.25"/><circle cx="389.5" cy="790.2" r="2.25"/><circle cx="399.1" cy="789.2" r="2.25"/><circle cx="408.9" cy="793.9" r="2.25"/><circle cx="418.9" cy="792.6" r="2.25"/><circle cx="433.2" cy="788.8" r="2.25"/><circle cx="455.6" cy="798.5" r="2.25"/>
<rect x="333.5" y="736.5" width="135.90" height="99.00" fill="none" stroke="#2a2a2a" stroke-width="1"/>
<text transform="translate(346.40 827.30) scale(1 1.045)" font-size="10.1">|y| &lt; 2.4</text>
<text transform="translate(393.60 827.30) scale(1 1.045)" font-size="10.2">p<tspan font-size="8.1" dy="2.6">T3</tspan><tspan dy="-2.6" dx="-0.5"> &gt; 100 GeV</tspan></text>
</g>
<text transform="translate(69.0 656.0)" font-size="16.4" letter-spacing="0.2">D&#216;</text>
<text transform="translate(208.5 650.7) scale(1 1.045)" font-size="10.1">L = 0.7 fb<tspan font-size="6.8" dy="-5.7" dx="0.1">-1</tspan></text>
<text transform="translate(47.5 646.34)" font-size="11.1" text-anchor="end">1.4</text>
<text transform="translate(47.5 662.92)" font-size="11.1" text-anchor="end">1.2</text>
<text transform="translate(45.7 679.50)" font-size="11.1" text-anchor="end">1</text>
<text transform="translate(47.5 696.08)" font-size="11.1" text-anchor="end">0.8</text>
<text transform="translate(47.5 712.66)" font-size="11.1" text-anchor="end">0.6</text>
<text transform="translate(47.5 729.24)" font-size="11.1" text-anchor="end">0.4</text>
<text transform="translate(47.5 748.63)" font-size="11.1" text-anchor="end">1.4</text>
<text transform="translate(47.5 765.18)" font-size="11.1" text-anchor="end">1.2</text>
<text transform="translate(45.7 781.73)" font-size="11.1" text-anchor="end">1</text>
<text transform="translate(47.5 798.28)" font-size="11.1" text-anchor="end">0.8</text>
<text transform="translate(47.5 814.83)" font-size="11.1" text-anchor="end">0.6</text>
<text transform="translate(47.5 831.38)" font-size="11.1" text-anchor="end">0.4</text>
<text transform="translate(63.70 850.0) scale(1 1.045)" font-size="10.4" text-anchor="middle">0.4</text>
<text transform="translate(86.91 850.0) scale(1 1.045)" font-size="10.4" text-anchor="middle">0.5</text>
<text transform="translate(106.16 850.0) scale(1 1.045)" font-size="10.4" text-anchor="middle">0.6</text>
<text transform="translate(134.63 850.0) scale(1 1.045)" font-size="10.4" text-anchor="middle">0.8</text>
<text transform="translate(158.34 850.0) scale(1 1.045)" font-size="10.4" text-anchor="middle">1.0</text>
<text transform="translate(177.39 850.0) scale(1 1.045)" font-size="10.4" text-anchor="middle">1.2</text>
<text transform="translate(202.30 850.0) scale(1 1.045)" font-size="10.4" text-anchor="middle">0.4</text>
<text transform="translate(225.51 850.0) scale(1 1.045)" font-size="10.4" text-anchor="middle">0.5</text>
<text transform="translate(244.76 850.0) scale(1 1.045)" font-size="10.4" text-anchor="middle">0.6</text>
<text transform="translate(273.23 850.0) scale(1 1.045)" font-size="10.4" text-anchor="middle">0.8</text>
<text transform="translate(296.94 850.0) scale(1 1.045)" font-size="10.4" text-anchor="middle">1.0</text>
<text transform="translate(315.99 850.0) scale(1 1.045)" font-size="10.4" text-anchor="middle">1.2</text>
<text transform="translate(340.70 850.0) scale(1 1.045)" font-size="10.4" text-anchor="middle">0.4</text>
<text transform="translate(363.91 850.0) scale(1 1.045)" font-size="10.4" text-anchor="middle">0.5</text>
<text transform="translate(383.16 850.0) scale(1 1.045)" font-size="10.4" text-anchor="middle">0.6</text>
<text transform="translate(411.63 850.0) scale(1 1.045)" font-size="10.4" text-anchor="middle">0.8</text>
<text transform="translate(435.34 850.0) scale(1 1.045)" font-size="10.4" text-anchor="middle">1.0</text>
<text transform="translate(454.39 850.0) scale(1 1.045)" font-size="10.4" text-anchor="middle">1.2</text>
<text transform="translate(16.3 764.8) rotate(-90) scale(1 1.045)" font-size="11.9">Data / Theory</text>
<text transform="translate(233.3 869.6) scale(1 1.045)" font-size="12">M<tspan font-size="8.2" dy="3.9">3jet</tspan><tspan dy="-3.9" dx="6.9">(TeV)</tspan></text>
<circle cx="339.8" cy="644.0" r="2.6"/>
<text transform="translate(350.6 647.9) scale(1 1.045)" font-size="10.27">Data/Theory (MSTW2008)</text>
<line x1="336.0" y1="659.7" x2="353" y2="659.7" stroke="#a80000" stroke-width="1.4" stroke-dasharray="3.8 3.8 1.4 3.8"/>
<text transform="translate(363.0 663.4) scale(1 1.045)" font-size="10.27">CT10 / MSTW2008</text>
<line x1="335.5" y1="675.2" x2="353" y2="675.2" stroke="#0000a8" stroke-width="1.4" stroke-dasharray="3.8 2.9"/>
<text transform="translate(363.3 678.9) scale(1 1.045)" font-size="10.27">NNPDF2.1/MSTW2008</text>
<line x1="335.2" y1="691.0" x2="353" y2="691.0" stroke="#000" stroke-width="1.4" stroke-dasharray="1.2 2.1"/>
<text transform="translate(363.3 694.7) scale(1 1.045)" font-size="10.27">HERA1.0 / MSTW2008</text>
<line x1="335.0" y1="706.9" x2="352.8" y2="706.9" stroke="#1c9c1c" stroke-width="1.9"/>
<text transform="translate(363.0 710.4) scale(1 1.045)" font-size="10.27">ABKM09 / MSTW2008</text>
<text transform="translate(339.8 728.2) scale(1 1.045)" font-size="10.2">&#956;<tspan font-size="8.0" dy="2.7">r</tspan><tspan dy="-2.7" dx="-0.55"> = &#956;</tspan><tspan font-size="8.0" dy="2.7">f</tspan><tspan dy="-2.7" dx="-0.55"> = (p</tspan><tspan font-size="8.0" dy="2.7">T1</tspan><tspan dy="-2.7" dx="-0.55"> + p</tspan><tspan font-size="8.0" dy="2.7">T2</tspan><tspan dy="-2.7" dx="-0.55"> + p</tspan><tspan font-size="8.0" dy="2.7">T3</tspan><tspan dy="-2.7" dx="-0.55">) / 3</tspan></text>
</svg>
</body></html>
